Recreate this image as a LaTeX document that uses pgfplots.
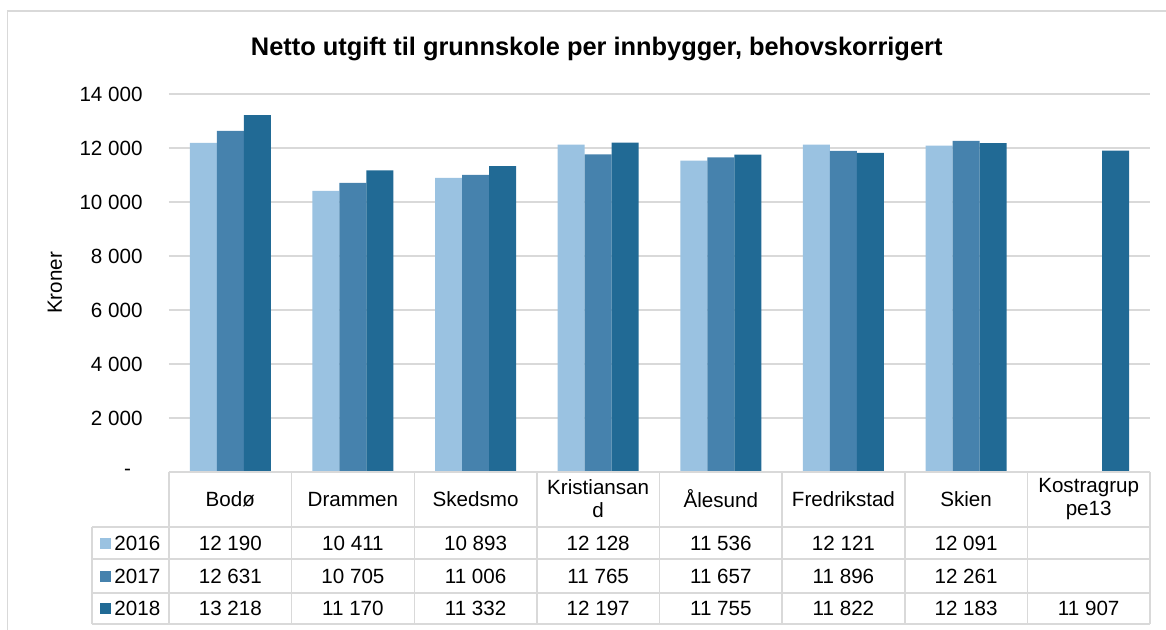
\documentclass[border=0pt]{standalone}
\usepackage{pgfplots}
\pgfplotsset{compat=1.18}
\usepackage{fontspec}
\setmainfont{Liberation Sans}
\definecolor{cA}{HTML}{9AC2E1}
\definecolor{cB}{HTML}{4682AD}
\definecolor{cC}{HTML}{216A95}
\definecolor{gl}{HTML}{D9D9D9}
\begin{document}
\fontsize{10.3pt}{12pt}\selectfont
\begin{tikzpicture}
\begin{scope}[x=0.5pt,y=-0.5pt]
\useasboundingbox (0,0) rectangle (1166,629);
\clip (0,0) rectangle (1166,629);
\draw[gl, line width=0.75pt] (7.5,11) rectangle (1180,650);
\end{scope}
\begin{axis}[
  at={(84.5pt,-236pt)}, anchor=south west,
  scale only axis, width=490.5pt, height=189pt,
  xmin=-0.5, xmax=7.5, ymin=0, ymax=14000,
  ybar=0pt, bar width=13.5pt,
  axis line style={draw=none},
  major tick length=0pt,
  scaled y ticks=false,
  ytick={0,2000,4000,6000,8000,10000,12000,14000},
  yticklabels={-\hphantom{0},2 000,4 000,6 000,8 000,10 000,12 000,14 000},
  yticklabel style={xshift=-9.6pt},
  xtick={0,1,2,3,4,5,6,7},
  xticklabels={Bodø,Drammen,Skedsmo,{Kristiansan\\d},Ålesund,Fredrikstad,Skien,{Kostragrup\\pe13}},
  xticklabel style={anchor=center, yshift=-13.5pt, align=center},
  ticklabel style={font=\fontsize{10.3pt}{11.5pt}\selectfont},
  ymajorgrids, grid style={gl, line width=0.75pt},
  clip=false,
  ylabel={Kroner},
  ylabel style={at={(axis description cs:-0.1162,0.5)}, anchor=center, font=\fontsize{10.3pt}{12pt}\selectfont},
  title={Netto utgift til grunnskole per innbygger, behovskorrigert},
  title style={at={(axis description cs:0.436,1.124)}, anchor=center, yshift=-7pt, font=\bfseries\fontsize{12.7pt}{14pt}\selectfont},
]
\addplot[fill=cA, draw=none] coordinates {(0,12190) (1,10411) (2,10893) (3,12128) (4,11536) (5,12121) (6,12091)};
\addplot[fill=cB, draw=none] coordinates {(0,12631) (1,10705) (2,11006) (3,11765) (4,11657) (5,11896) (6,12261)};
\addplot[fill=cC, draw=none] coordinates {(0,13218) (1,11170) (2,11332) (3,12197) (4,11755) (5,11822) (6,12183) (7,11907)};
\end{axis}
\begin{scope}[x=0.5pt,y=-0.5pt]
\begin{scope}[gl, line width=0.75pt]
\draw (169,472) -- (1150,472);
\draw (92,527) -- (1150,527);
\draw (92,559) -- (1150,559);
\draw (92,593) -- (1150,593);
\draw (92,624) -- (1150,624);
\draw (92,527) -- (92,624);
\foreach \k in {0,...,8} {\draw ({169+122.625*\k},472) -- ({169+122.625*\k},624);}
\end{scope}
\fill[cA] (100,537.5) rectangle (111,548.5);
\fill[cB] (100,570.5) rectangle (111,581.5);
\fill[cC] (100,603) rectangle (111,614);
\node[anchor=west, inner sep=0pt] at (114,543) {2016};
\node[anchor=west, inner sep=0pt] at (114,576) {2017};
\node[anchor=west, inner sep=0pt] at (114,608.5) {2018};
\foreach \v [count=\i from 0] in {12 190,10 411,10 893,12 128,11 536,12 121,12 091}
  {\node[inner sep=0pt] at ({169+122.625*(\i+0.5)},543) {\v};}
\foreach \v [count=\i from 0] in {12 631,10 705,11 006,11 765,11 657,11 896,12 261}
  {\node[inner sep=0pt] at ({169+122.625*(\i+0.5)},576) {\v};}
\foreach \v [count=\i from 0] in {13 218,11 170,11 332,12 197,11 755,11 822,12 183,11 907}
  {\node[inner sep=0pt] at ({169+122.625*(\i+0.5)},608.5) {\v};}
\end{scope}
\end{tikzpicture}
\end{document}
